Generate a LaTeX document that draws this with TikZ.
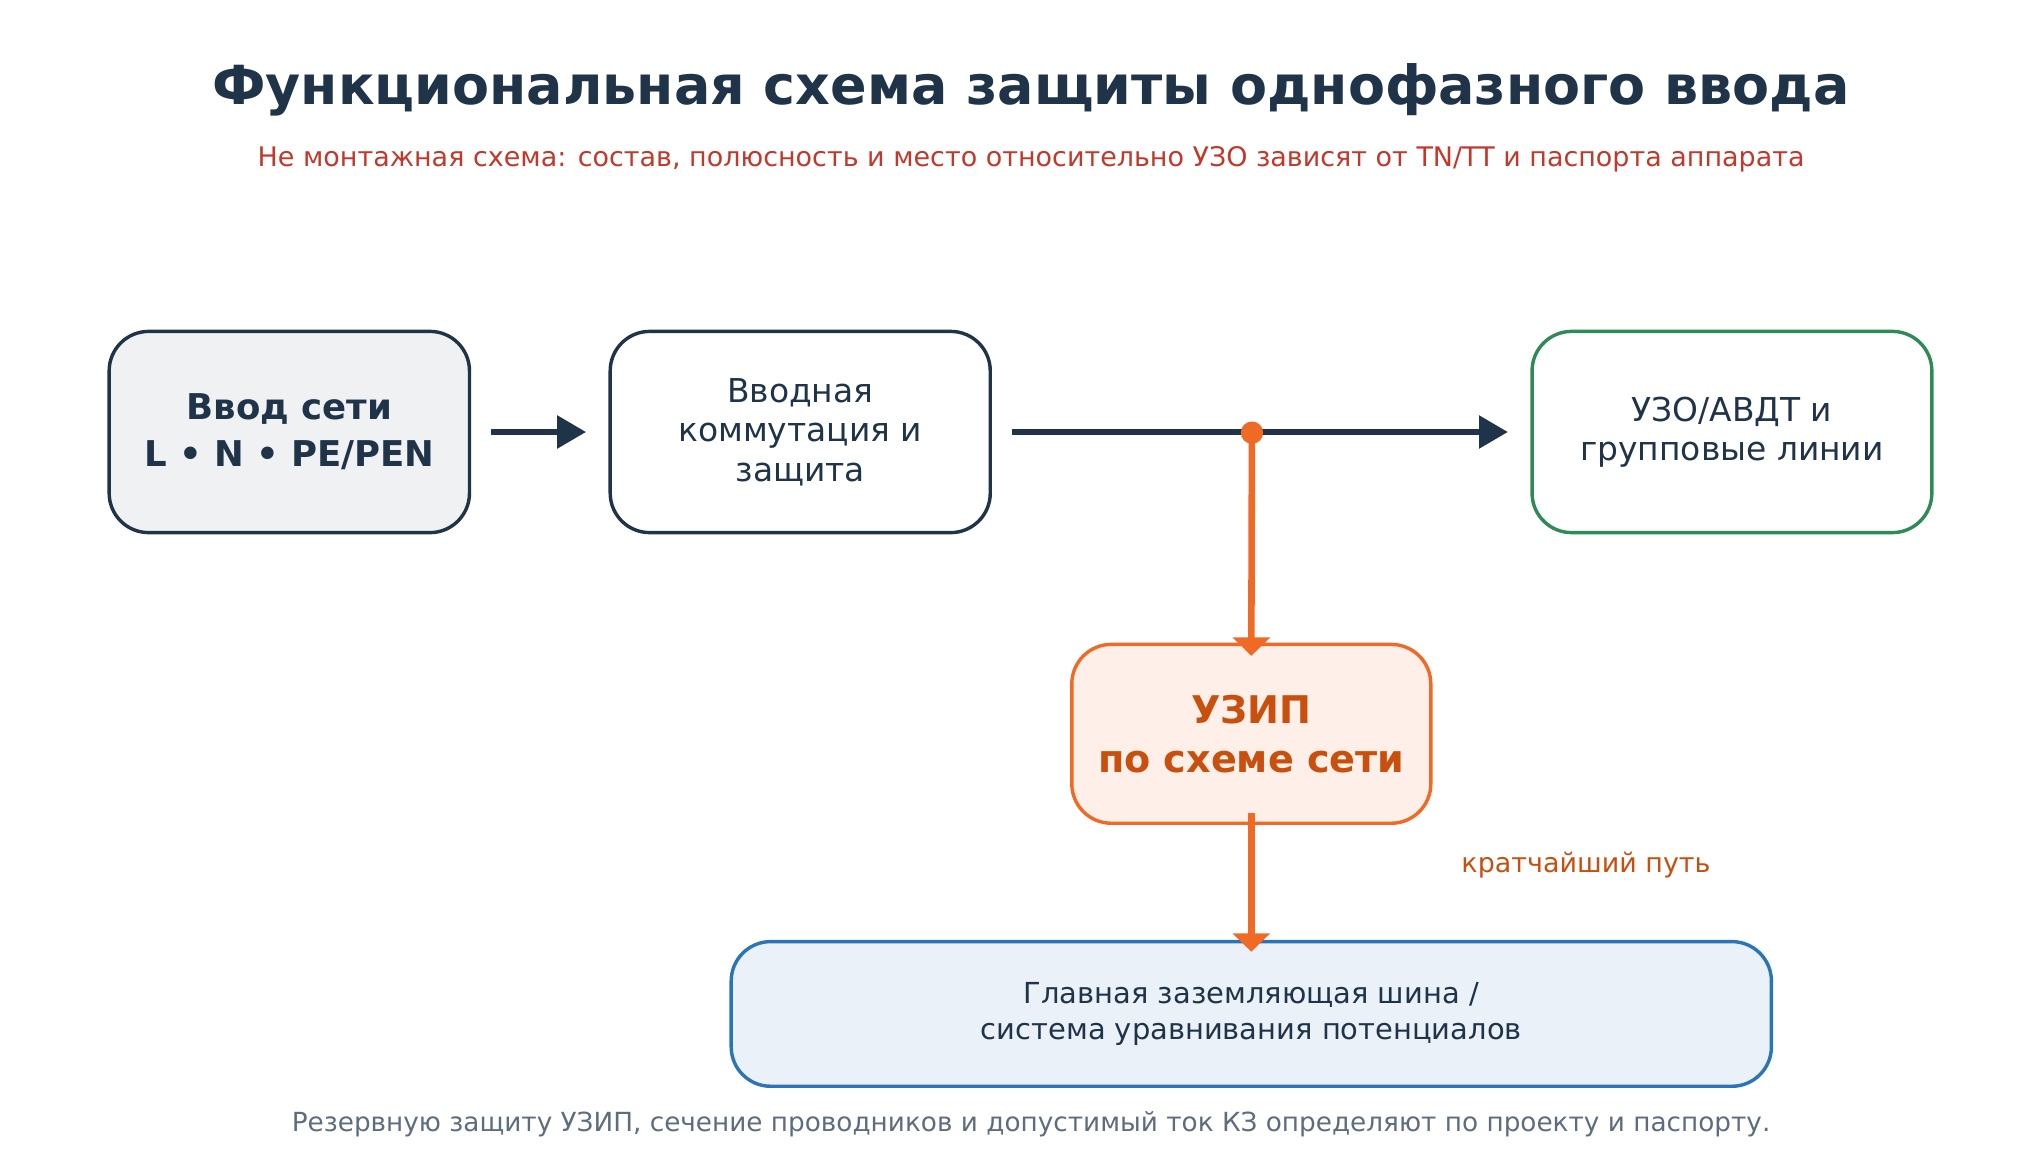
\documentclass[tikz,border=0pt]{standalone}
\usepackage{fontspec}
\setmainfont{DejaVu Sans}
\usetikzlibrary{arrows.meta}
\definecolor{dark}{HTML}{1F3349}
\definecolor{grn}{HTML}{2E8B57}
\definecolor{org}{HTML}{F06A25}
\definecolor{orgt}{HTML}{C94F0F}
\definecolor{blu}{HTML}{2A75B5}
\definecolor{redt}{HTML}{C0392B}
\definecolor{grayt}{HTML}{5D6D7E}
\begin{document}
\begin{tikzpicture}[x=1pt,y=-1pt,
 box/.style={draw, line width=2.6pt, rounded corners=30pt, align=center, inner sep=0pt, text=dark, font=\fontsize{25}{30}\selectfont},
 darr/.style={draw=dark, line width=5pt, -{Triangle[length=22pt,width=24pt]}},
 oarr/.style={draw=org, line width=5pt, -{Triangle[length=14pt,width=28pt]}}]
\useasboundingbox (0,0) rectangle (1552,886);
\node[font=\fontsize{41}{48}\selectfont\bfseries, text=dark] (title) at (784,68) {Функциональная схема защиты однофазного ввода};
\node[font=\fontsize{20.5}{24}\selectfont, text=redt] (sub) at (784,121) {Не монтажная схема: состав, полюсность и место относительно УЗО зависят от TN/TT и паспорта аппарата};
\node[box, draw=dark, fill=dark!7, minimum width=274pt, minimum height=153pt, font=\fontsize{27}{36}\selectfont\bfseries] (in) at (220,328.5) {Ввод сети\\L • N • PE/PEN};
\node[box, draw=dark, fill=white, minimum width=289pt, minimum height=153pt] (sw) at (608.5,328.5) {Вводная\\коммутация и\\защита};
\node[box, draw=grn, fill=white, minimum width=304pt, minimum height=153pt] (uzo) at (1317,328.5) {УЗО/АВДТ и\\групповые линии};
\node[box, draw=org, fill=org!10, text=orgt, minimum width=273pt, minimum height=136pt, font=\fontsize{29}{37}\selectfont\bfseries] (uzip) at (951.5,558) {УЗИП\\по схеме сети};
\node[box, draw=blu, fill=blu!10, minimum width=791pt, minimum height=110pt, font=\fontsize{22}{27}\selectfont] (gzsh) at (951.5,771) {Главная заземляющая шина /\\система уравнивания потенциалов};
\coordinate (j) at (952,329);
\draw[darr] ([xshift=15pt]in.east) -- ([xshift=-17pt]sw.west);
\draw[darr] ([xshift=15pt]sw.east) -- ([xshift=-17pt]uzo.west);
\draw[oarr] (j) -- ([yshift=-10pt]uzip.north);
\fill[org] (j) circle (8.5pt);
\draw[oarr] ([yshift=9pt]uzip.south) -- ([yshift=-9pt]gzsh.north);
\node[font=\fontsize{20.5}{24}\selectfont, text=orgt] (lbl) at (1206,658) {кратчайший путь};
\node[font=\fontsize{20}{24}\selectfont, text=grayt] (foot) at (784,855) {Резервную защиту УЗИП, сечение проводников и допустимый ток КЗ определяют по проекту и паспорту.};
\end{tikzpicture}
\end{document}
